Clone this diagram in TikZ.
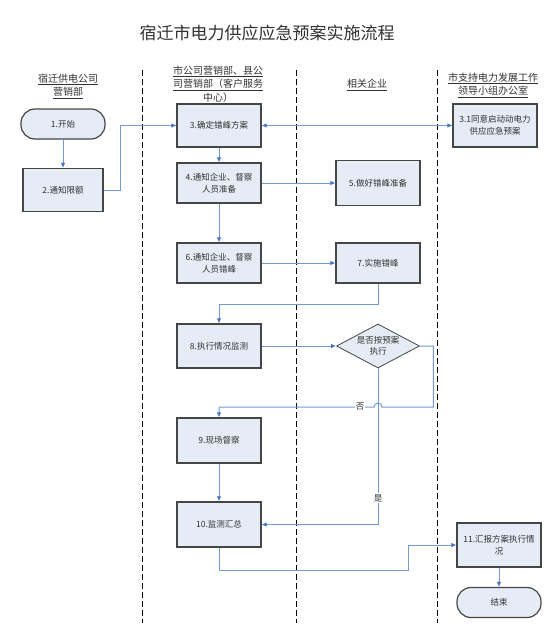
\documentclass[tikz,border=0pt]{standalone}
\usepackage{fontspec}
\setmainfont{Noto Sans CJK SC}
\usetikzlibrary{shapes.geometric,arrows.meta}
\definecolor{boxfill}{RGB}{230,236,246}
\definecolor{boxline}{RGB}{70,70,70}
\definecolor{flow}{RGB}{115,155,212}
\definecolor{tip}{RGB}{68,114,196}
\definecolor{txt}{RGB}{50,50,50}
\begin{document}
\begin{tikzpicture}[x=1pt,y=-1pt,
  stepbox/.style={draw=boxline,line width=1.2pt,fill=boxfill,minimum width=84pt,minimum height=43pt,inner sep=1pt,align=center,text=txt,font=\fontsize{8.5}{11.5}\selectfont},
  term/.style={stepbox,rounded corners=14pt,minimum height=30pt},
  decision/.style={diamond,draw=boxline,line width=0.8pt,fill=boxfill,minimum width=83pt,minimum height=44pt,aspect=1.9,inner sep=0pt,align=center,text=txt,font=\fontsize{8.5}{11.5}\selectfont},
  flowline/.style={draw=flow,line width=1pt,-{Latex[length=5pt,width=4.5pt,color=tip]}},
  lane/.style={draw=black,line width=0.9pt,dash pattern=on 6pt off 3pt},
  header/.style={align=center,text=txt,font=\fontsize{10}{13.5}\selectfont,inner sep=0pt},
  lbl/.style={fill=white,inner sep=1pt,text=txt,font=\fontsize{8.5}{10}\selectfont}
]
\useasboundingbox (0,0) rectangle (554,629);
\fill[white] (0,0) rectangle (554,629);

% swim lanes
\draw[lane] (142,70) -- (142,623);
\draw[lane] (296,70) -- (296,623);
\draw[lane] (437,70) -- (437,623);

% title and headers
\node[text=txt,font=\fontsize{17}{20}\selectfont] (title) at (267,33) {宿迁市电力供应应急预案实施流程};
\node[header] (h1) at (68,86) {\underline{宿迁供电公司}\\\underline{营销部}};
\node[header] (h2) at (218,85) {\underline{市公司营销部、县公}\\\underline{司营销部（客户服务}\\\underline{中心）}};
\node[header] (h3) at (367,85) {\underline{相关企业}};
\node[header] (h4) at (493,85) {\underline{市支持电力发展工作}\\\underline{领导小组办公室}};

% nodes
\node[term] (n1) at (63,124) {1.开始};
\node[stepbox,minimum width=80pt] (n2) at (63,190) {2.通知限额};
\node[stepbox] (n3) at (219,125.5) {3.确定错峰方案};
\node[stepbox] (n31) at (495,125.5) {3.1同意启动动电力\\供应应急预案};
\node[stepbox,minimum height=40pt] (n4) at (219,183) {4.通知企业、督察\\人员准备};
\node[stepbox,minimum height=45pt] (n5) at (378,183) {5.做好错峰准备};
\node[stepbox,minimum height=40pt] (n6) at (219,263) {6.通知企业、督察\\人员错峰};
\node[stepbox,minimum height=40pt] (n7) at (378,263) {7.实施错峰};
\node[stepbox,minimum height=44pt] (n8) at (219,346) {8.执行情况监测};
\node[decision] (d) at (378,346) {是否按预案\\执行};
\node[stepbox,minimum height=45pt] (n9) at (219,440.5) {9.现场督察};
\node[stepbox,minimum height=45pt] (n10) at (219,524.5) {10.监测汇总};
\node[stepbox,minimum height=44pt] (n11) at (499,545) {11.汇报方案执行情\\况};
\node[term] (end) at (499,602.5) {结束};
\coordinate (hop) at (378,407);

% connectors
\draw[flowline] (n1) -- (n2);
\draw[flowline] (n2.east) -- ++(17,0) |- (n3.west);
\draw[flowline,{Latex[length=5pt,width=4.5pt,color=tip]}-{Latex[length=5pt,width=4.5pt,color=tip]}] (n3.east) -- (n31.west);
\draw[flowline] (n3) -- (n4);
\draw[flowline] (n4) -- (n5);
\draw[flowline] (n4) -- (n6);
\draw[flowline] (n6) -- (n7);
\draw[flowline] (n7.south) -- ++(0,21) -| (n8.north);
\draw[flowline] (n8) -- (d);
\draw[flowline] (d.south) |- (n10.east);
\draw[flowline] (d.east) -- ++(13.5,0) |- ([xshift=4pt]hop) arc[start angle=0,end angle=180,radius=4pt] -- (n9.north |- hop) -- (n9.north);
\draw[flowline] (n9) -- (n10);
\draw[flowline] (n10.south) -- ++(0,23) -| ([xshift=-48pt]n11.west) -- (n11.west);
\draw[flowline] (n11) -- (end);

% labels
\node[lbl] (no) at (360,407) {否};
\node[lbl] (yes) at (378,498) {是};
\end{tikzpicture}
\end{document}
